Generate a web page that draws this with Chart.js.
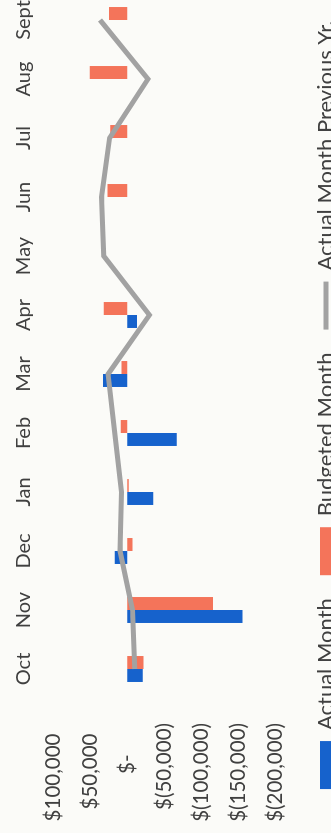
<!DOCTYPE html>
<html>
<head>
<meta charset="utf-8">
<script src="https://cdn.jsdelivr.net/npm/chart.js@4.4.1/dist/chart.umd.min.js"></script>
<style>
html,body{margin:0;padding:0;width:331px;height:833px;overflow:hidden;background:#fbfbf8;}
#land{position:absolute;left:0;top:833px;width:863px;height:340px;transform-origin:0 0;transform:rotate(-90deg);}
canvas{display:block;}
</style>
</head>
<body>
<div id="land"><canvas id="c" width="863" height="340"></canvas></div>
<script>
const months = ['Oct','Nov','Dec','Jan','Feb','Mar','Apr','May','Jun','Jul','Aug','Sept'];
const actualMonth = [-21000, -156000, 17000, -35000, -67000, 33000, -13000, 0, 0, 0, 0, 0];
const budgetedMonth = [-22000, -116000, -7000, -2000, 9000, 8000, 32000, 0, 27000, 23000, 51000, 25000];
const actualPrevYear = [-10000, -7000, 10000, 8000, 17000, 26000, -30000, 32000, 35000, 24000, -28000, 37000];
const seriesNames = ['Actual Month', 'Budgeted Month', 'Actual Month Previous Yr.'];
const valueTicks = [100000, 50000, 0, -50000, -100000, -150000, -200000];
const valueTickLabels = ['$100,000  ', '$50,000  ', '$-      ', '$(50,000)', '$(100,000)', '$(150,000)', '$(200,000)'];

const textColor = '#404040';
Chart.defaults.font.family = 'Lato, "Open Sans", sans-serif';
Chart.defaults.color = textColor;

const legendShift = {
  id: 'legendShift',
  afterLayout(chart) {
    const l = chart.legend;
    if (l) { l.top += 17; l.bottom += 17; l.left += 7; l.right += 7; }
  }
};

new Chart(document.getElementById('c'), {
  type: 'bar',
  data: {
    labels: months,
    datasets: [
      { label: seriesNames[0], data: actualMonth, backgroundColor: '#1662cc', pointStyle: 'rect', order: 1 },
      { label: seriesNames[1], data: budgetedMonth, backgroundColor: '#f4745a', pointStyle: 'rect', order: 1 },
      { type: 'line', label: seriesNames[2], data: actualPrevYear, borderColor: '#a2a2a2', backgroundColor: '#a2a2a2',
        borderWidth: 5, pointRadius: 0, pointHoverRadius: 0, pointStyle: 'line', tension: 0, fill: false, order: 0 }
    ]
  },
  options: {
    responsive: false,
    animation: false,
    events: [],
    categoryPercentage: 0.44,
    barPercentage: 1.0,
    layout: { padding: { top: 0, right: 20.5, bottom: 10, left: 0 } },
    scales: {
      x: {
        position: 'top',
        grid: { display: false, drawTicks: false },
        border: { display: false },
        ticks: { font: { size: 20 }, padding: 17.5, color: textColor, maxRotation: 0, autoSkip: false },
        afterFit: (s) => { s.height = 53.5; }
      },
      y: {
        min: -200000, max: 100000,
        grid: { display: false, drawTicks: false },
        border: { display: false },
        ticks: {
          stepSize: 50000, font: { size: 20.5 }, padding: 24.5, color: textColor,
          callback: (v) => { const i = valueTicks.indexOf(v); return i >= 0 ? valueTickLabels[i] : ''; }
        },
        afterFit: (s) => { s.width = 134.5; }
      }
    },
    plugins: {
      tooltip: { enabled: false },
      legend: {
        position: 'bottom',
        align: 'center',
        labels: {
          usePointStyle: true, pointStyleWidth: 48, boxHeight: 12,
          padding: 23, font: { size: 22 }, color: textColor,
          sort: (a, b) => a.datasetIndex - b.datasetIndex
        }
      }
    }
  },
  plugins: [legendShift]
});
</script>
</body>
</html>
